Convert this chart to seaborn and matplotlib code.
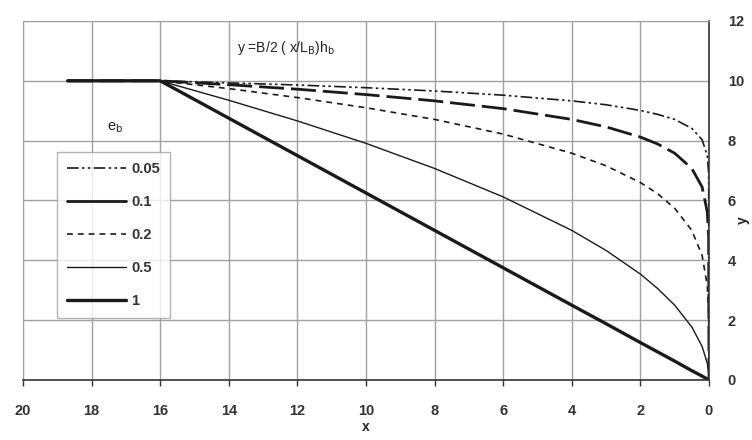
import pandas as pd
import matplotlib.pyplot as plt
import seaborn as sns

# values
x_pos = [18.7, 16, 14, 12, 10, 8, 6, 4, 3, 2, 1.5, 1, 0.5, 0.2, 0.05, 0.01, 0]
y_005 = [10, 10, 9.93, 9.86, 9.77, 9.66, 9.52, 9.33, 9.20, 9.01, 8.88, 8.71, 8.41, 8.03, 7.50, 6.92, 0]
y_01 = [10, 10, 9.87, 9.72, 9.54, 9.33, 9.07, 8.71, 8.46, 8.12, 7.89, 7.58, 7.07, 6.45, 5.62, 4.78, 0]
y_02 = [10, 10, 9.74, 9.44, 9.10, 8.71, 8.22, 7.58, 7.16, 6.60, 6.23, 5.74, 5.00, 4.16, 3.16, 2.29, 0]
y_05 = [10, 10, 9.35, 8.66, 7.91, 7.07, 6.12, 5.00, 4.33, 3.54, 3.06, 2.50, 1.77, 1.12, 0.56, 0.25, 0]
y_1 = [10, 10, 8.75, 7.50, 6.25, 5.00, 3.75, 2.50, 1.88, 1.25, 0.94, 0.63, 0.31, 0.13, 0.03, 0.01, 0]
labels = ["0.05", "0.1", "0.2", "0.5", "1"]
x_ticks = [20, 18, 16, 14, 12, 10, 8, 6, 4, 2, 0]
y_ticks = [0, 2, 4, 6, 8, 10, 12]

series = [y_005, y_01, y_02, y_05, y_1]
styles = [
    dict(linestyle=(0, (7, 2, 1.5, 2, 1.5, 2)), lw=1.2),
    dict(linestyle=(0, (9, 2.5)), lw=2.0),
    dict(linestyle=(0, (3.5, 3)), lw=1.2),
    dict(linestyle="-", lw=1.0),
    dict(linestyle="-", lw=2.4),
]

sns.set_style("white")
plt.rcParams['font.family'] = ['Liberation Sans', 'DejaVu Sans']

fig = plt.figure(figsize=(7.52, 4.40), dpi=100)
ax = fig.add_axes([0.0306, 0.1364, 0.9122, 0.8159])

for lab, ys, st in zip(labels, series, styles):
    df = pd.DataFrame({"x": x_pos, "y": ys})
    sns.lineplot(data=df, x="x", y="y", ax=ax, color="#1a1a1a", label=lab,
                 estimator=None, sort=False, **st)

ax.set_xlim(20, 0)
ax.set_ylim(0, 12)
ax.set_xticks(x_ticks)
ax.set_yticks(y_ticks)
ax.yaxis.tick_right()
ax.grid(True, color="#a0a0a0", lw=1.0)
ax.set_axisbelow(True)
ax.tick_params(axis="x", bottom=True, length=4, width=1, color="#333333",
               labelsize=10.5, pad=13)
ax.tick_params(axis="y", right=False, labelsize=10.5, pad=10)
for lab in ax.get_xticklabels() + ax.get_yticklabels():
    lab.set_fontweight("bold")
    lab.set_color("#333333")

for side in ["top", "left"]:
    ax.spines[side].set_color("#a0a0a0")
for side in ["bottom", "right"]:
    ax.spines[side].set_color("#333333")
    ax.spines[side].set_linewidth(1.2)

ax.set_xlabel("x", fontsize=10, fontweight="bold", labelpad=2)
ax.set_ylabel("")
fig.text(0.988, 0.50, "y", fontsize=10, fontweight="bold", rotation=90,
         ha="center", va="center", color="#222222")

ax.text(13.75, 10.95, r"y =B/2 ( x/L$_\mathrm{B}$)h$_\mathrm{b}$", fontsize=10,
        color="#222222")
ax.text(17.55, 8.35, r"e$_\mathrm{b}$", fontsize=10.5, color="#222222")

leg = ax.legend(loc="upper left", bbox_to_anchor=(0.039, 0.655), fontsize=10.5,
                frameon=True, fancybox=False, edgecolor="#a0a0a0",
                handlelength=4.0, labelspacing=1.3, borderpad=0.7,
                handletextpad=0.4)
leg.get_frame().set_linewidth(1.0)
# the 0.1 entry is shown as a solid line in the reference legend
leg.get_lines()[1].set_linestyle("-")
for t in leg.get_texts():
    t.set_fontweight("bold")
    t.set_color("#333333")

fig.savefig("out.png", dpi=100, facecolor="white")
